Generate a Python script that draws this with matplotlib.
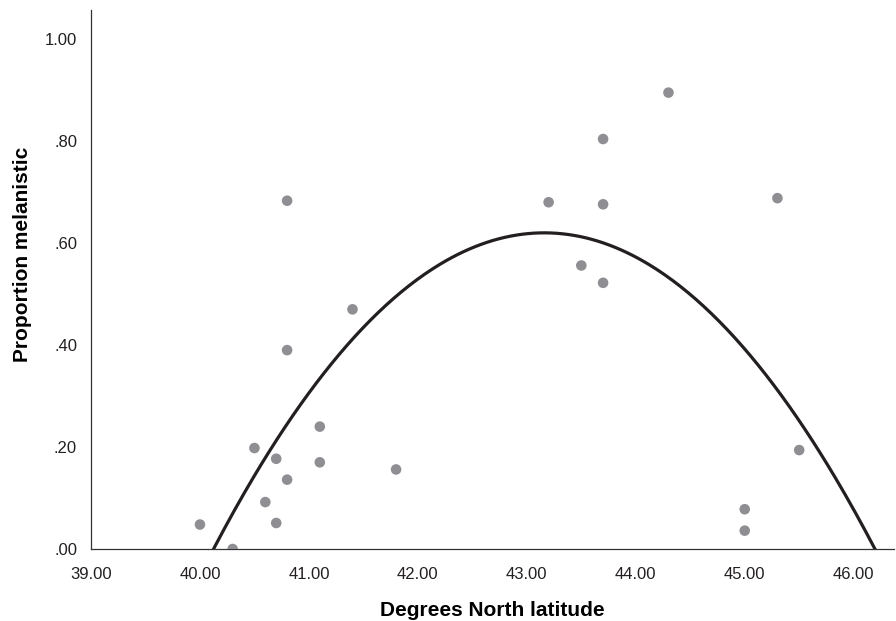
import numpy as np
import matplotlib.pyplot as plt
from matplotlib.ticker import FuncFormatter

# latitude (degrees N) and proportion melanistic
latitude = [40.0, 40.3, 40.5, 40.6, 40.7, 40.7, 40.8, 40.8, 40.8, 41.1, 41.1,
            41.4, 41.8, 43.2, 43.5, 43.7, 43.7, 43.7, 44.3, 45.0, 45.0, 45.3, 45.5]
melanistic = [0.048, 0.0, 0.198, 0.092, 0.177, 0.051, 0.136, 0.390, 0.683, 0.240, 0.170,
              0.470, 0.156, 0.680, 0.556, 0.522, 0.676, 0.804, 0.895, 0.078, 0.036, 0.688, 0.194]

# quadratic fit: y = peak + curv * (x - vertex)^2
fit_vertex = 43.16
fit_peak = 0.62
fit_curv = -0.0673

x_ticks = [39, 40, 41, 42, 43, 44, 45, 46]
y_ticks = [0.0, 0.2, 0.4, 0.6, 0.8, 1.0]

plt.rcParams['font.family'] = ['Liberation Sans', 'DejaVu Sans']

fig = plt.figure(figsize=(8.96, 6.21), dpi=100)
ax = fig.add_axes([91 / 896, 72 / 621, 803 / 896, 539 / 621])

ax.scatter(latitude, melanistic, s=58, color='#8e8e93', edgecolors='none', zorder=3)

xs = np.linspace(39.5, 46.6, 400)
ys = fit_peak + fit_curv * (xs - fit_vertex) ** 2
ax.plot(xs, ys, color='#231f20', linewidth=2.3, zorder=2)

ax.set_xlim(39, 46.37)
ax.set_ylim(0, 1.057)
ax.set_xticks(x_ticks)
ax.set_yticks(y_ticks)
ax.xaxis.set_major_formatter(FuncFormatter(lambda v, p: f'{v:.2f}'))
ax.yaxis.set_major_formatter(FuncFormatter(lambda v, p: f'{v:.2f}'.lstrip('0') if v < 1 else f'{v:.2f}'))
ax.tick_params(length=0, labelsize=12, labelcolor='#231f20')
ax.tick_params(axis='x', pad=13)
ax.tick_params(axis='y', pad=10)

for side in ['top', 'right']:
    ax.spines[side].set_visible(False)
for side in ['left', 'bottom']:
    ax.spines[side].set_color('#333333')
    ax.spines[side].set_linewidth(0.9)

ax.set_xlabel('Degrees North latitude', fontsize=15, fontweight='bold', labelpad=14)
ax.set_ylabel('Proportion melanistic', fontsize=15, fontweight='bold')
ax.yaxis.set_label_coords(-0.0735, 0.547)

plt.savefig('out.png', dpi=100)
